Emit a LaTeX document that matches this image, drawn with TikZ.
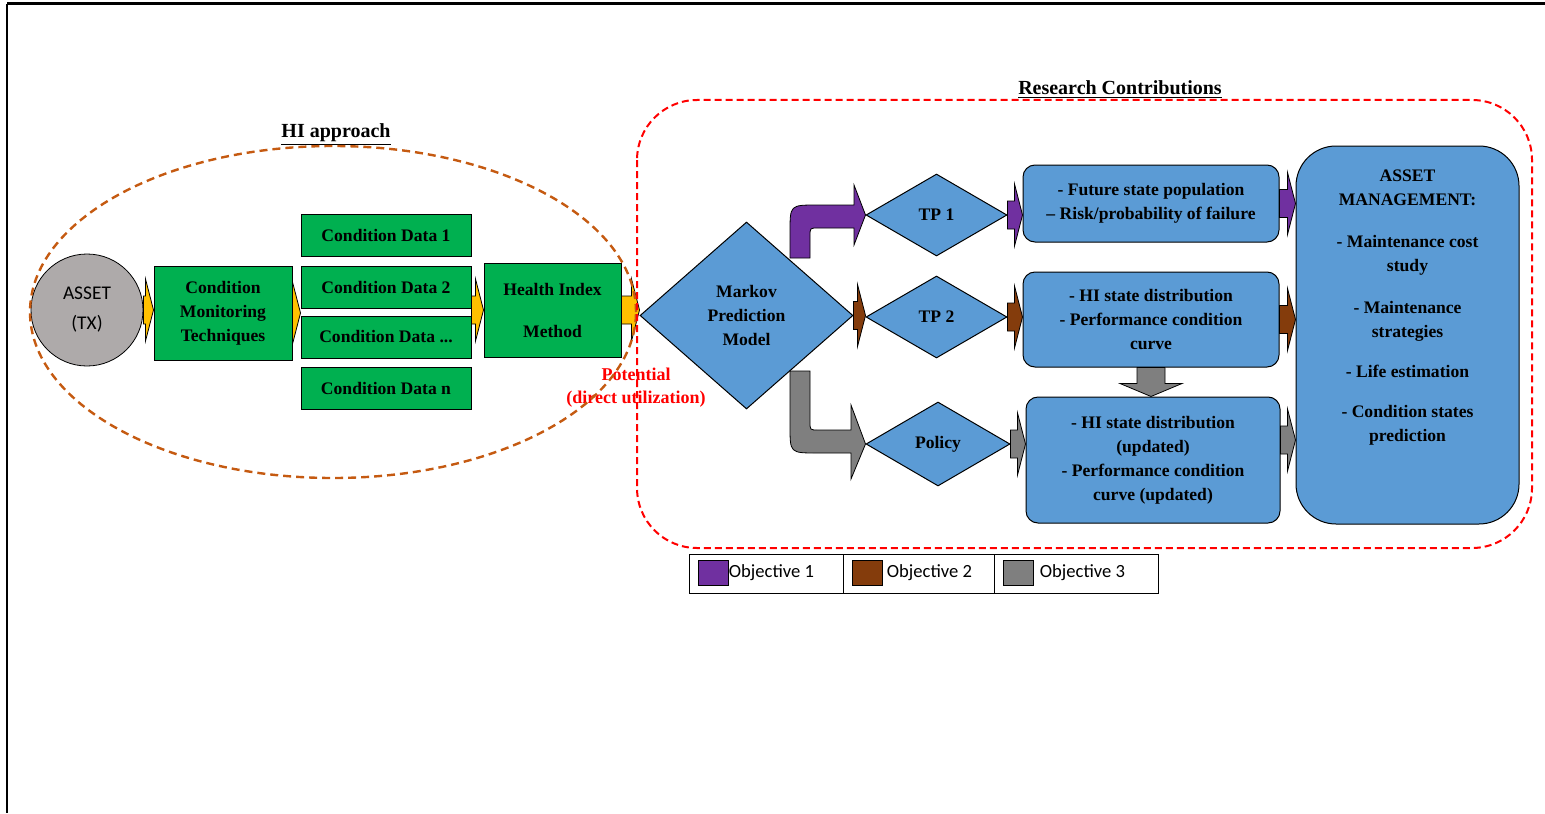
\documentclass[tikz,border=0pt]{standalone}
\usepackage{fontspec}
\setmainfont{Liberation Serif}
\newfontfamily\calibfont{Carlito}
\usetikzlibrary{shapes.geometric,calc}

\definecolor{hgreen}{HTML}{00B050}
\definecolor{hblue}{HTML}{5B9BD5}
\definecolor{hgray}{HTML}{AEAAAA}
\definecolor{hyellow}{HTML}{FFC000}
\definecolor{objpurple}{HTML}{7030A0}
\definecolor{objbrown}{HTML}{843C0C}
\definecolor{objgray}{HTML}{7F7F7F}
\definecolor{horange}{HTML}{C55A11}

\newcommand{\arwbody}{7pt}
\newcommand{\arwhead}{15.5pt}
\newcommand{\arwlen}{4pt}
\newcommand{\arwvlen}{6.5pt}
\newcommand{\cddots}{...}

\begin{document}
\begin{tikzpicture}[
            x=0.5pt, y=-0.5pt,
            font=\bfseries\fontsize{8.8}{12}\selectfont,
            gbox/.style={rectangle, draw, fill=hgreen, inner sep=1pt, align=center, line width=0.5pt},
            bbox/.style={rectangle, draw, fill=hblue, rounded corners=6pt, inner sep=1pt, align=center, line width=0.5pt},
            dia/.style={diamond, draw, fill=hblue, inner sep=0pt, align=center, line width=0.5pt},
            title/.style={font=\bfseries\fontsize{10}{12}\selectfont},
            legcell/.style={rectangle, draw, line width=0.5pt, minimum height=19.5pt, inner sep=0pt},
            swatch/.style={rectangle, draw, line width=0.5pt, minimum width=15pt, minimum height=12.5pt, inner sep=0pt},
            legtext/.style={anchor=west, inner sep=0pt, font=\calibfont\fontsize{9.3}{11}\selectfont},
            blk/.style={draw=black, line width=0.4pt, fill=#1,
                to path={let \p1=(\tikztostart), \p2=(\tikztotarget) in
                    (\x1,\y1-\arwbody) -- (\x2-\arwlen,\y1-\arwbody) -- (\x2-\arwlen,\y1-\arwhead) -- (\x2,\y1)
                    -- (\x2-\arwlen,\y1+\arwhead) -- (\x2-\arwlen,\y1+\arwbody) -- (\x1,\y1+\arwbody) -- cycle}},
            vblk/.style={draw=black, line width=0.4pt, fill=#1,
                to path={let \p1=(\tikztostart), \p2=(\tikztotarget) in
                    (\x1-\arwbody,\y1) -- (\x1-\arwbody,\y2+\arwvlen) -- (\x1-\arwhead,\y2+\arwvlen) -- (\x1,\y2)
                    -- (\x1+\arwhead,\y2+\arwvlen) -- (\x1+\arwbody,\y2+\arwvlen) -- (\x1+\arwbody,\y1) -- cycle}},
            bent/.style={draw=black, line width=0.4pt, fill=#1}
        ]
            \useasboundingbox (0,0) rectangle (1545,813);
            % page frame
            \draw[line width=1.5pt] (7,4) -- (1545,4);
            \draw[line width=1pt] (7,4) -- (7,813);

            % HI approach
            \node[circle, draw, fill=hgray, minimum size=56pt, inner sep=0pt, align=center,
                  font=\calibfont\fontsize{9.7}{15}\selectfont] (asset) at (87,310) {ASSET\\(TX)};
            \node[gbox, minimum width=69pt, minimum height=47pt] (cmt) at (223,313) {Condition\\Monitoring\\Techniques};
            \foreach \i/\y/\t in {1/235/1, 2/287/2, 3/337/\cddots, 4/388/n}
                \node[gbox, minimum width=85pt, minimum height=21pt] (cd\i) at (386,\y) {Condition Data \t};
            \node[gbox, minimum width=68.5pt, minimum height=47pt] (him) at (552.5,310) {Health Index\\[9pt]Method};

            % research contributions
            \node[dia, minimum width=106.5pt, minimum height=93.5pt] (markov) at (746.5,315.5) {Markov\\Prediction\\Model};
            \node[dia, minimum width=70.5pt, minimum height=41pt] (tp1) at (936.5,215) {TP 1};
            \node[dia, minimum width=70.5pt, minimum height=41pt] (tp2) at (936.5,317) {TP 2};
            \node[dia, minimum width=72pt, minimum height=42pt] (policy) at (938,444) {Policy};
            \node[bbox, minimum width=128pt, minimum height=38.5pt] (box1) at (1151,203.5)
                {- Future state population\\\textendash\ Risk/probability of failure};
            \node[bbox, minimum width=128pt, minimum height=47.5pt] (box2) at (1151,319.5)
                {- HI state distribution\\- Performance condition\\curve};
            \node[bbox, minimum width=127pt, minimum height=63pt] (box3) at (1153,460)
                {- HI state distribution\\(updated)\\- Performance condition\\curve (updated)};
            \node[bbox, rounded corners=20pt, minimum width=111.5pt, minimum height=189pt] (am) at (1407.5,335)
                {ASSET\\MANAGEMENT:\\[9pt]- Maintenance cost\\study\\[9pt]- Maintenance\\strategies\\[8pt]- Life estimation\\[8pt]- Condition states\\prediction\\[17pt]~};

            % block arrows
            \draw[blk=hyellow] (asset.east) to (cmt.west);
            \draw[blk=hyellow] (cmt.east) to (cd2.south west);
            \draw[blk=hyellow] (him.west -| cd2.east) to (him.west);
            \draw[blk=hyellow] (him.east) to (markov.west);
            \draw[blk=objbrown] (markov.east) to (tp2.west);
            \draw[blk=objpurple] (tp1.east) to (box1.west);
            \draw[blk=objbrown] (tp2.east) to (box2.west);
            \draw[blk=objgray] (policy.east) to (box3.west);
            \draw[blk=objpurple] (box1.east) to (am.west);
            \draw[blk=objbrown] (box2.east) to (am.west);
            \draw[blk=objgray] ([yshift=10pt]box3.east) to (am.west);
            \draw[vblk=objgray] (box2.south) to (box3.north);
            \filldraw[bent=objpurple] (790,258) -- (790,232) .. controls (790,205) .. (817,205) -- (854,205) -- (854,185)
                -- (tp1.west) -- (854,245) -- (854,228) -- (818,228) .. controls (810,228) .. (810,236) -- (810,258) -- cycle;
            \filldraw[bent=objgray] (790,371) -- (790,426) .. controls (790,453) .. (817,453) -- (851,453) -- (851,479)
                -- (policy.west) -- (851,405) -- (851,430) -- (818,430) .. controls (810,430) .. (810,422) -- (810,371) -- cycle;

            % legend
            \node[legcell, minimum width=77pt] (leg1) at (766,573.5) {};
            \node[legcell, minimum width=75.5pt] (leg2) at (918.5,573.5) {};
            \node[legcell, minimum width=82pt] (leg3) at (1076,573.5) {};
            \node[swatch, fill=objpurple] (sw1) at (713,573) {};
            \node[legtext] (lt1) at (sw1.east) {Objective 1};
            \node[swatch, fill=objbrown] (sw2) at (867,573) {};
            \node[legtext] (lt2) at ([xshift=2pt]sw2.east) {Objective 2};
            \node[swatch, fill=objgray] (sw3) at (1018,573) {};
            \node[legtext] (lt3) at ([xshift=3pt]sw3.east) {Objective 3};

            % titles and note
            \node[title] (hititle) at (336,135) {\underline{HI approach}};
            \node[title] (rctitle) at (1120,90) {\underline{Research Contributions}};
            \node[text=red, align=center, font=\bfseries\fontsize{9}{11.5}\selectfont] (potential) at (636,388)
                {Potential\\(direct utilization)};

            % dashed groups
            \draw[horange, line width=1.2pt, dash pattern=on 4pt off 2.5pt] (333,312) ellipse [x radius=151.5pt, y radius=83pt];
            \draw[red, line width=1pt, dash pattern=on 3.5pt off 2pt, rounded corners=30pt] (637,100) rectangle (1532,548);
        \end{tikzpicture}
\end{document}
